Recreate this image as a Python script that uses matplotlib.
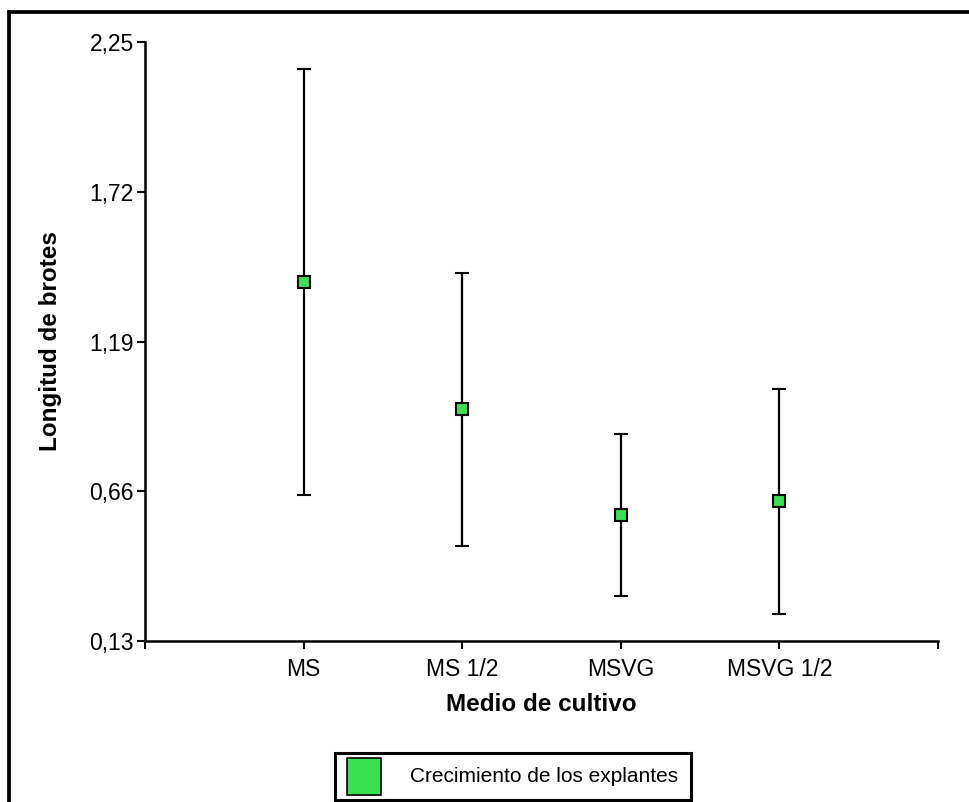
import matplotlib
matplotlib.use("Agg")
import matplotlib.pyplot as plt
from matplotlib.patches import Rectangle

plt.rcParams['font.family'] = ['Liberation Sans', 'DejaVu Sans']

# data
medios = ['MS', 'MS 1/2', 'MSVG', 'MSVG 1/2']
media = [1.40, 0.95, 0.575, 0.625]
error = [0.755, 0.483, 0.287, 0.398]
y_ticks = [0.13, 0.66, 1.19, 1.72, 2.25]
serie = 'Crecimiento de los explantes'
verde = '#3be050'

W, H = 970, 802
fig = plt.figure(figsize=(W / 100, H / 100), dpi=100)

def px(x0, y0, x1, y1):
    # pixel box (top-left origin) -> figure fraction rect
    return [x0 / W, 1 - y1 / H, (x1 - x0) / W, (y1 - y0) / H]

ax = fig.add_axes(px(145, 42, 938, 641))

x = list(range(1, len(medios) + 1))
ax.errorbar(x, media, yerr=error, fmt='s', color='black', ecolor='black',
            elinewidth=1.6, capsize=5, capthick=1.6,
            markersize=8.5, markerfacecolor=verde, markeredgecolor='black',
            markeredgewidth=1.5, zorder=3)

ax.set_xlim(0, len(medios) + 1)
ax.set_ylim(y_ticks[0], y_ticks[-1])
ax.set_xticks(range(0, len(medios) + 2))
ax.set_xticklabels([''] + medios + [''])
ax.set_yticks(y_ticks)
ax.set_yticklabels([f'{v:.2f}'.replace('.', ',') for v in y_ticks])

for s in ['top', 'right']:
    ax.spines[s].set_visible(False)
for s in ['left', 'bottom']:
    ax.spines[s].set_linewidth(1.8)
ax.tick_params(direction='out', length=6, width=1.5, labelsize=16.5)
ax.tick_params(axis='y', pad=2)
ax.tick_params(axis='x', pad=6)

ax.set_xlabel('Medio de cultivo', fontsize=17.5, fontweight='bold', labelpad=9)
ax.set_ylabel('Longitud de brotes', fontsize=17.5, fontweight='bold', labelpad=20)

# outer frame (cut by the image edges on right and bottom)
fig.add_artist(Rectangle((9.5 / W, -0.1), 1.2, 1.1 - 11.5 / H,
                         transform=fig.transFigure, fill=False,
                         edgecolor='black', linewidth=2.7))

# legend box
fig.add_artist(Rectangle(px(335, 753, 691, 800)[:2], *px(335, 753, 691, 800)[2:],
                         transform=fig.transFigure, facecolor='white',
                         edgecolor='black', linewidth=2.2))
fig.add_artist(Rectangle(px(347, 758, 381, 795)[:2], *px(347, 758, 381, 795)[2:],
                         transform=fig.transFigure, facecolor=verde,
                         edgecolor='black', linewidth=1.2))
fig.text(410 / W, 1 - 777 / H, serie, fontsize=15, va='center', ha='left')

fig.savefig('out.png', dpi=100)
